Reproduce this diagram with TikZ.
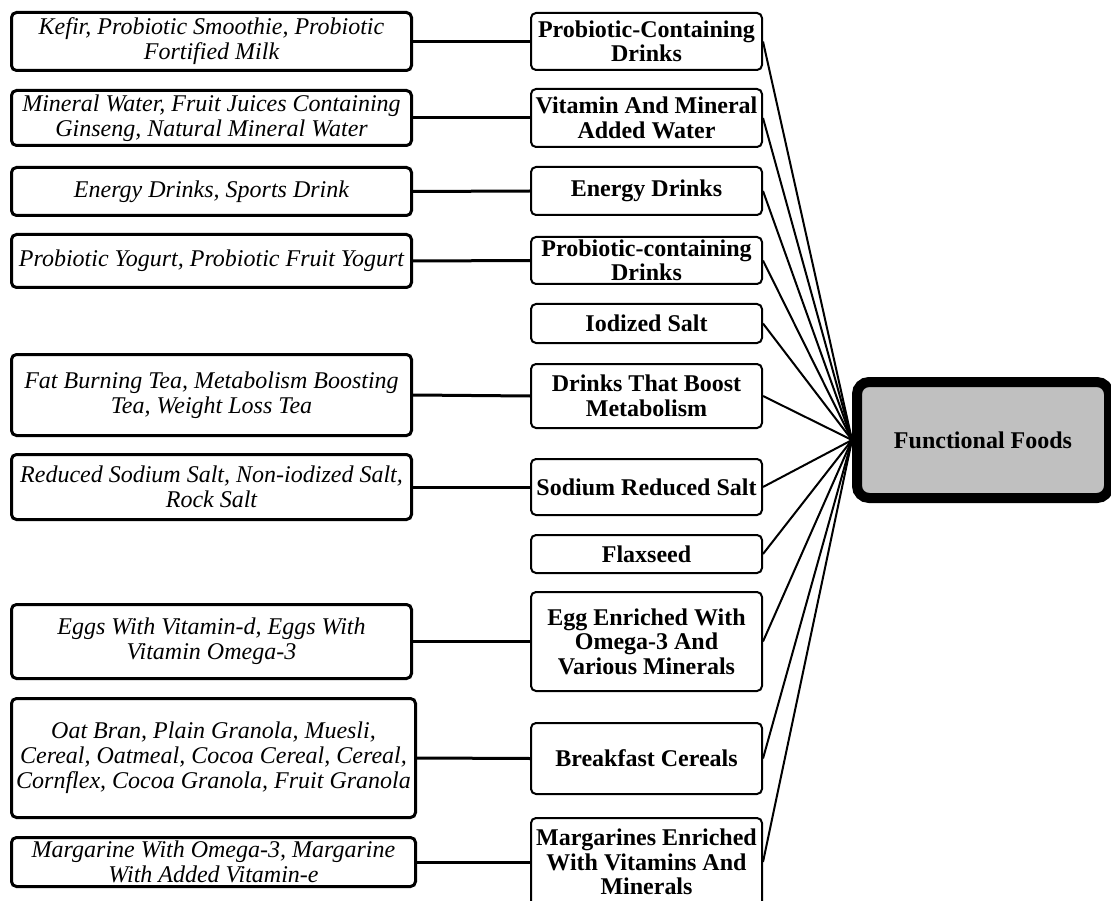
\documentclass[tikz,border=0pt]{standalone}
\usepackage{fontspec}
\setmainfont{Liberation Serif}
\usepackage{xcolor}
\usepackage{tikz}
\usetikzlibrary{positioning}
\definecolor{boxgray}{RGB}{192,192,192}
\tikzset{
  itembox/.style={
    rectangle,
    rounded corners=5pt,
    draw=black,
    line width=3pt,
    minimum width=400pt,
    align=center,
    inner sep=1pt,
    font=\itshape\fontsize{24}{25}\selectfont,
    fill=white
  },
  catbox/.style={
    rectangle,
    rounded corners=5pt,
    draw=black,
    line width=2pt,
    minimum width=231pt,
    align=center,
    inner sep=1pt,
    font=\bfseries\fontsize{24}{24.5}\selectfont,
    fill=white
  },
  rootbox/.style={
    rectangle,
    rounded corners=12pt,
    draw=black,
    line width=10pt,
    minimum width=252pt,
    minimum height=116pt,
    align=center,
    font=\bfseries\fontsize{24}{25}\selectfont,
    fill=boxgray
  },
  link/.style={line width=3pt, black},
  fan/.style={line width=2pt, black}
}

\begin{document}
\begin{tikzpicture}[x=1pt,y=-1pt]
\useasboundingbox (0,0) rectangle (1111,901);
\clip (0,0) rectangle (1111,901);
% examples (left column)
\node[itembox, minimum height=58pt] (kefir) at (211.5,41.5) {Kefir, Probiotic Smoothie, Probiotic\\Fortified Milk};
\node[itembox, minimum height=55pt] (water) at (211.5,118) {Mineral Water, Fruit Juices Containing\\Ginseng, Natural Mineral Water};
\node[itembox, minimum height=48pt] (energy) at (211.5,191.5) {Energy Drinks, Sports Drink};
\node[itembox, minimum height=53pt] (yogurt) at (211.5,261) {Probiotic Yogurt, Probiotic Fruit Yogurt};
\node[itembox, minimum height=81pt] (tea) at (211.5,395) {Fat Burning Tea, Metabolism Boosting\\Tea, Weight Loss Tea};
\node[itembox, minimum height=65pt] (salt) at (211.5,487) {Reduced Sodium Salt, Non-iodized Salt,\\Rock Salt};
\node[itembox, minimum height=74pt] (eggs) at (211.5,641.5) {Eggs With Vitamin-d, Eggs With\\Vitamin Omega-3};
\node[itembox, minimum height=119pt, minimum width=404pt] (oats) at (213.5,758) {Oat Bran, Plain Granola, Muesli,\\Cereal, Oatmeal, Cocoa Cereal, Cereal,\\Cornflex, Cocoa Granola, Fruit Granola};
\node[itembox, minimum height=49pt, minimum width=404pt] (marg) at (213.5,862) {Margarine With Omega-3, Margarine\\With Added Vitamin-e};
% categories (middle column)
\node[catbox, minimum height=57pt] (probio) at (646.5,41.5) {Probiotic-Containing\\Drinks};
\node[catbox, minimum height=58pt] (vitwater) at (646.5,118) {Vitamin And Mineral\\Added Water};
\node[catbox, minimum height=48pt] (energyd) at (646.5,191) {Energy Drinks};
\node[catbox, minimum height=47pt] (probio2) at (646.5,260.5) {Probiotic-containing\\Drinks};
\node[catbox, minimum height=39pt] (iodized) at (646.5,323.5) {Iodized Salt};
\node[catbox, minimum height=64pt] (boost) at (646.5,396) {Drinks That Boost\\Metabolism};
\node[catbox, minimum height=56pt] (sodium) at (646.5,487) {Sodium Reduced Salt};
\node[catbox, minimum height=38pt] (flax) at (646.5,554) {Flaxseed};
\node[catbox, minimum height=99pt] (eggomega) at (646.5,641.5) {Egg Enriched With\\Omega-3 And\\Various Minerals};
\node[catbox, minimum height=71pt] (cereal) at (646.5,758.5) {Breakfast Cereals};
\node[catbox, minimum height=88pt] (margvit) at (646.5,862) {Margarines Enriched\\With Vitamins And\\Minerals};
% root
\node[rootbox] (funcfood) at (983,440) {Functional Foods};
% examples to categories
\draw[link] (kefir.east) -- (probio.west);
\draw[link] (water.east) -- (vitwater.west);
\draw[link] (energy.east) -- (energyd.west);
\draw[link] (yogurt.east) -- (probio2.west);
\draw[link] (tea.east) -- (boost.west);
\draw[link] (salt.east) -- (sodium.west);
\draw[link] (eggs.east) -- (eggomega.west);
\draw[link] (oats.east) -- (cereal.west);
\draw[link] (marg.east) -- (margvit.west);
% categories to root
\draw[fan] (probio.east) -- (funcfood.west);
\draw[fan] (vitwater.east) -- (funcfood.west);
\draw[fan] (energyd.east) -- (funcfood.west);
\draw[fan] (probio2.east) -- (funcfood.west);
\draw[fan] (iodized.east) -- (funcfood.west);
\draw[fan] (boost.east) -- (funcfood.west);
\draw[fan] (sodium.east) -- (funcfood.west);
\draw[fan] (flax.east) -- (funcfood.west);
\draw[fan] (eggomega.east) -- (funcfood.west);
\draw[fan] (cereal.east) -- (funcfood.west);
\draw[fan] (margvit.east) -- (funcfood.west);
\end{tikzpicture}
\end{document}
